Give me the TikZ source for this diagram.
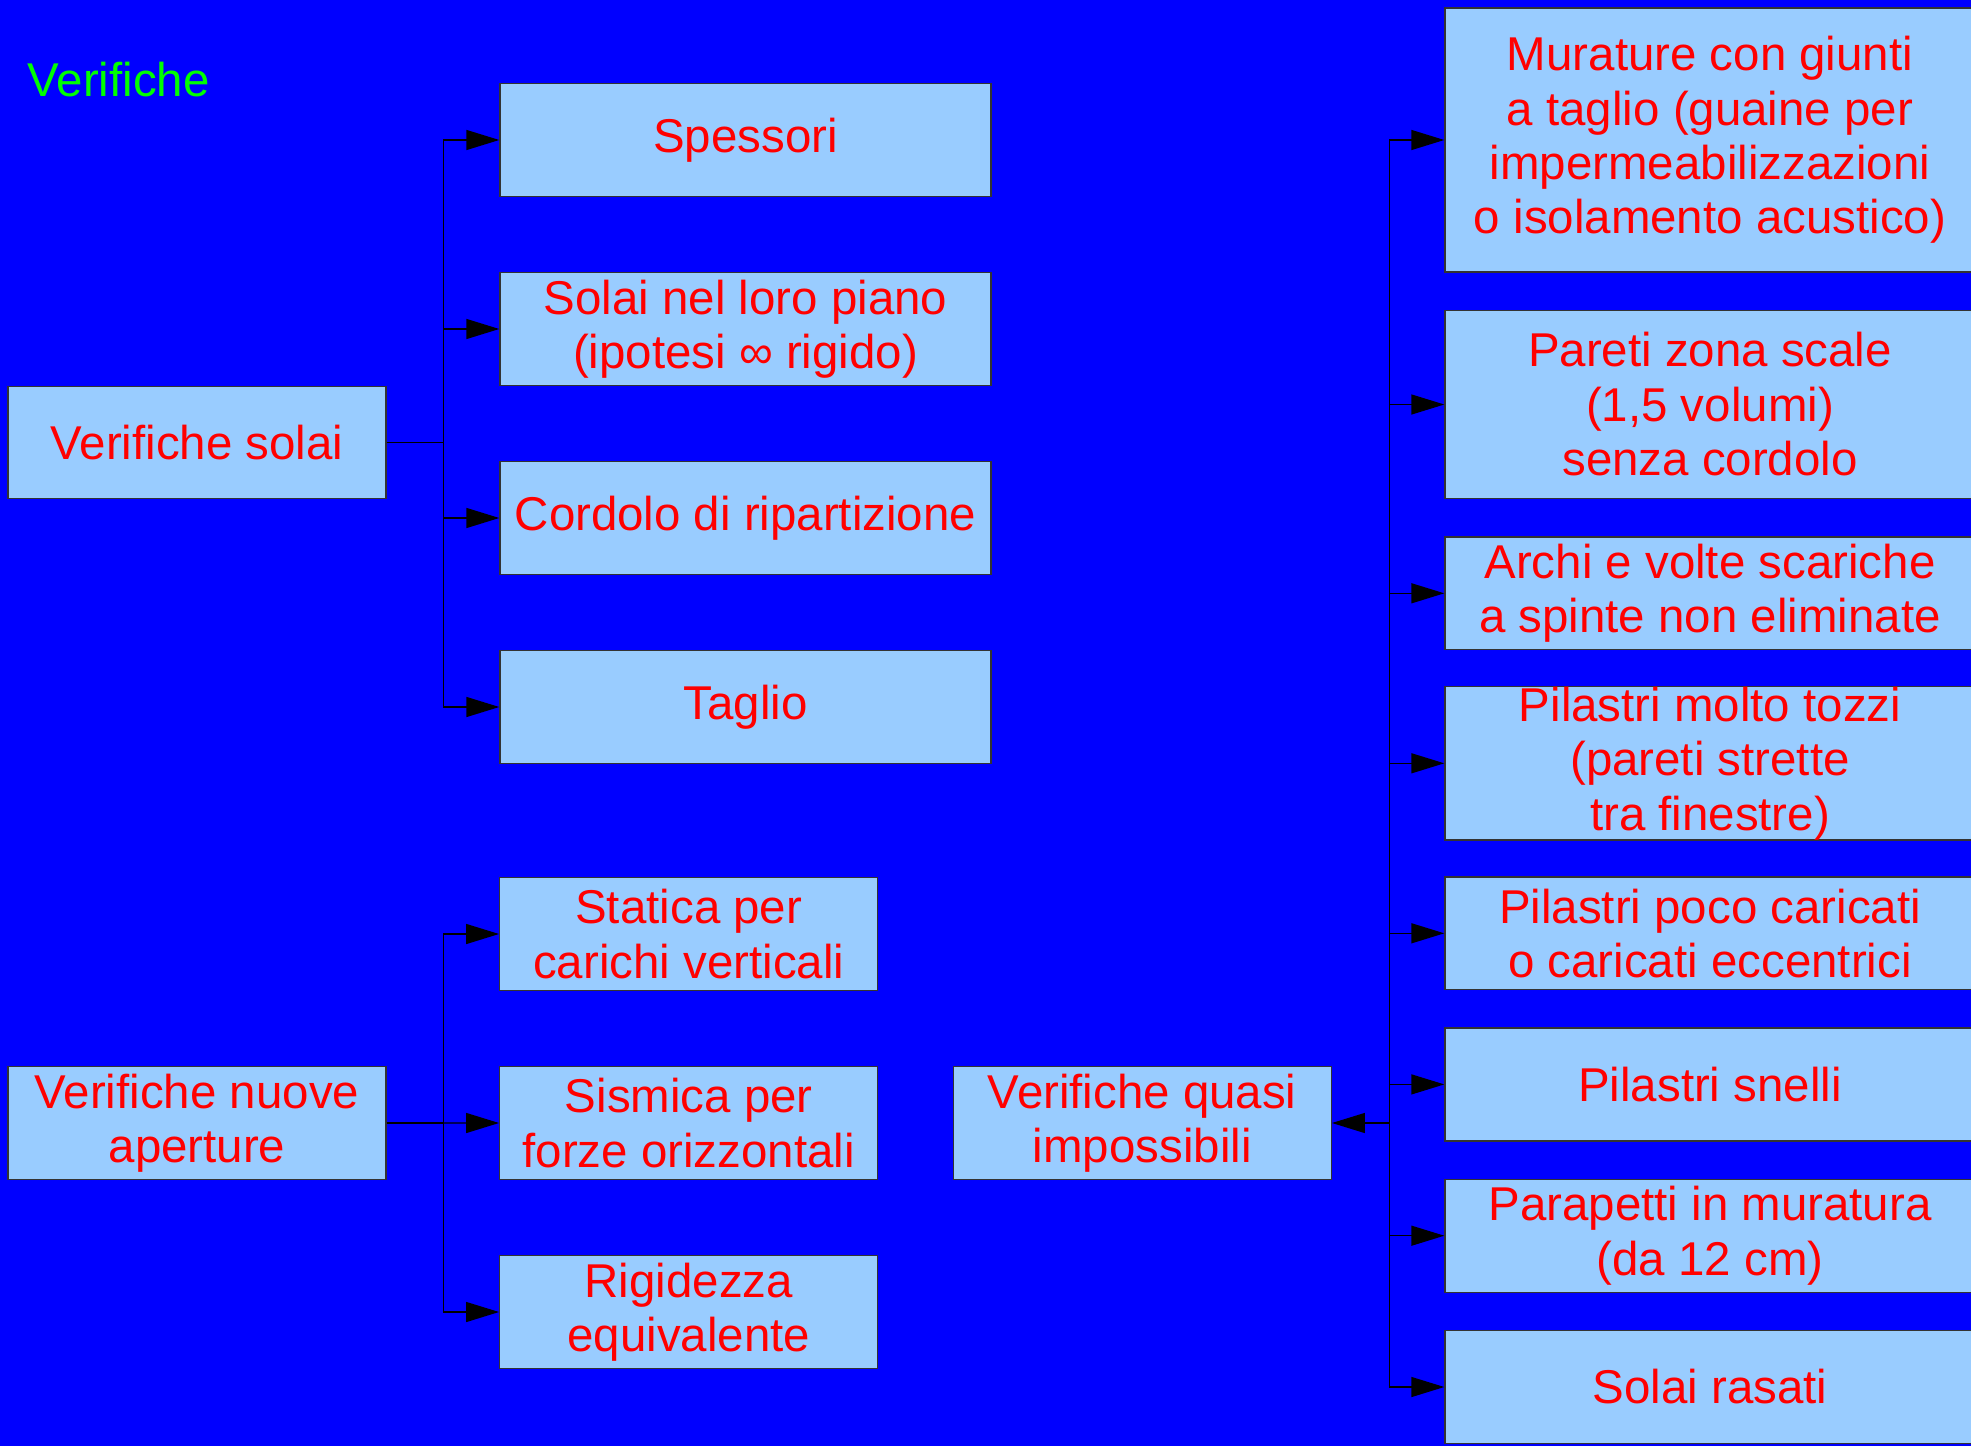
\documentclass[tikz,border=0pt]{standalone}
\usepackage{fontspec}
\setmainfont{Liberation Sans}
\usetikzlibrary{shapes,arrows.meta,positioning,calc}
\usepackage{xcolor}
\definecolor{sfondo}{HTML}{0000FF}
\definecolor{scatola}{HTML}{99CCFF}
\definecolor{testo}{HTML}{FF0000}
\definecolor{verde}{HTML}{00FF00}

\begin{document}
\begin{tikzpicture}[node distance=1.89cm, auto, font=\fontsize{13.5}{15.5}\selectfont]
    \tikzstyle{voce} = [rectangle, draw=black!80, line width=0.4pt, fill=scatola, text=testo, align=center, inner xsep=0.05cm, inner ysep=0cm, minimum height=1.125cm]
    \tikzstyle{larga} = [voce, minimum width=4.91cm]
    \tikzstyle{media} = [voce, minimum width=3.78cm]
    \tikzstyle{destra} = [voce, minimum width=5.30cm]
    \tikzstyle{freccia} = [->, line width=0.4pt, >={Triangle[length=0.33cm, width=0.2cm]}]

    \path[use as bounding box, fill=sfondo] (0,0) rectangle (19.71,-14.46);
    \clip (0,0) rectangle (19.71,-14.46);

    % Titolo
    \node[anchor=base west, text=verde, inner sep=0] (titolo) at (0.27,-0.97) {Verifiche};

    % Verifiche solai
    \node[media] (solai) at (1.97,-4.425) {Verifiche solai};
    \node[larga] (spessori) at (7.455,-1.40) {Spessori};
    \node[larga] (piano) [below of=spessori] {Solai nel loro piano\\(ipotesi ∞ rigido)};
    \node[larga] (cordolo) [below of=piano] {Cordolo di ripartizione};
    \node[larga] (taglio) [below of=cordolo] {Taglio};
    \coordinate[right=0.565cm of solai] (forksolai);

    % Verifiche nuove aperture
    \node[media] (aperture) at (1.97,-11.23) {Verifiche nuove\\aperture};
    \node[media] (statica) at (6.8875,-9.34) {Statica per\\carichi verticali};
    \node[media] (sismica) [below of=statica] {Sismica per\\forze orizzontali};
    \node[media] (rigidezza) [below of=sismica] {Rigidezza\\equivalente};
    \coordinate[right=0.565cm of aperture] (forkaperture);

    % Verifiche quasi impossibili
    \node[media] (quasi) at (11.4225,-11.23) {Verifiche quasi\\impossibili};
    \node[destra, minimum height=2.64cm] (murature) at (17.10,-1.40) {Murature con giunti\\a taglio (guaine per\\impermeabilizzazioni\\o isolamento acustico)};
    \node[destra, minimum height=1.885cm] (pareti) [below of=murature, node distance=2.645cm] {Pareti zona scale\\(1,5 volumi)\\senza cordolo};
    \node[destra] (archi) [below of=pareti, node distance=1.888cm] {Archi e volte scariche\\a spinte non eliminate};
    \node[destra, minimum height=1.51cm] (tozzi) [below of=archi, node distance=1.70cm] {Pilastri molto tozzi\\(pareti strette\\tra finestre)};
    \node[destra] (poco) [below of=tozzi, node distance=1.70cm] {Pilastri poco caricati\\o caricati eccentrici};
    \node[destra, minimum height=1.13cm] (snelli) [below of=poco, node distance=1.511cm] {Pilastri snelli};
    \node[destra, minimum height=1.13cm] (parapetti) [below of=snelli, node distance=1.513cm] {Parapetti in muratura\\(da 12 cm)};
    \node[destra, minimum height=1.13cm] (rasati) [below of=parapetti, node distance=1.513cm] {Solai rasati};
    \coordinate[right=0.575cm of quasi] (forkquasi);

    % Collegamenti
    \draw[line width=0.4pt] (solai) -- (forksolai);
    \draw[freccia] (forksolai) |- (spessori);
    \draw[freccia] (forksolai) |- (piano);
    \draw[freccia] (forksolai) |- (cordolo);
    \draw[freccia] (forksolai) |- (taglio);

    \draw[line width=0.4pt] (aperture) -- (forkaperture);
    \draw[freccia] (forkaperture) |- (statica);
    \draw[freccia] (forkaperture) -- (sismica);
    \draw[freccia] (forkaperture) |- (rigidezza);

    \draw[freccia] (forkquasi) -- (quasi);
    \draw[freccia] (forkquasi) |- (murature);
    \draw[freccia] (forkquasi) |- (pareti);
    \draw[freccia] (forkquasi) |- (archi);
    \draw[freccia] (forkquasi) |- (tozzi);
    \draw[freccia] (forkquasi) |- (poco);
    \draw[freccia] (forkquasi) |- (snelli);
    \draw[freccia] (forkquasi) |- (parapetti);
    \draw[freccia] (forkquasi) |- (rasati);
\end{tikzpicture}
\end{document}
